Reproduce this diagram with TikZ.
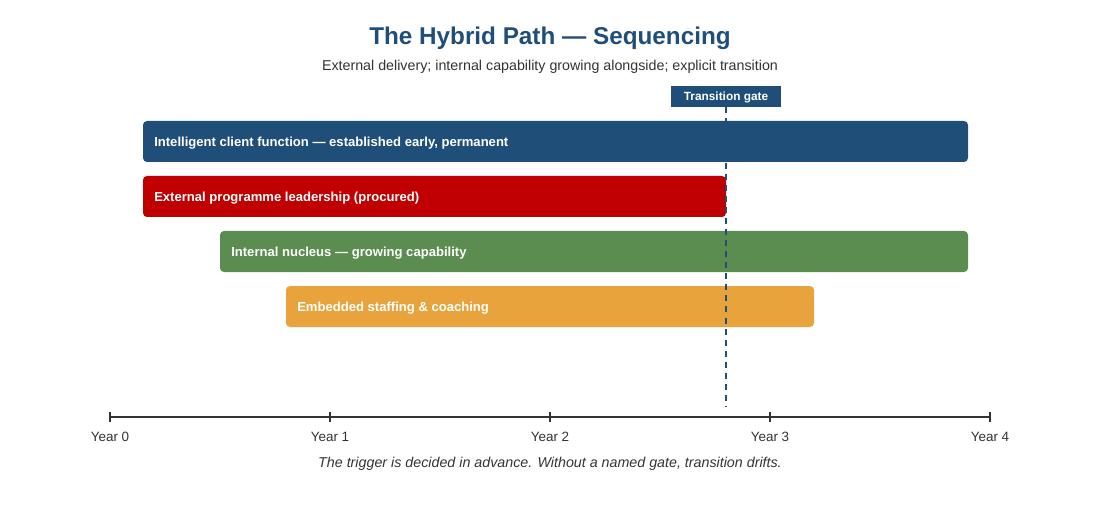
\documentclass[tikz,border=0pt]{standalone}
\usepackage{fontspec}
\setmainfont{Liberation Sans}
\definecolor{navy}{HTML}{1F4E79}
\definecolor{crimson}{HTML}{C00000}
\definecolor{leaf}{HTML}{5B8C50}
\definecolor{amber}{HTML}{E8A33D}
\definecolor{ink}{HTML}{333333}
\begin{document}
\begin{tikzpicture}[x=0.75pt,y=-0.75pt,
    bar/.style={rounded corners=3pt},
    barlabel/.style={anchor=west, text=white, inner sep=0pt, font=\fontsize{9.8}{11}\selectfont\bfseries},
    yearlabel/.style={anchor=base, text=ink, inner sep=0pt, font=\fontsize{10.1}{11}\selectfont}]
    \useasboundingbox (0,0) rectangle (1100,506);
    % heading
    \node [text=navy, font=\fontsize{18.2}{21}\selectfont\bfseries] (title) at (550,38) {The Hybrid Path --- Sequencing};
    \node [text=ink, font=\fontsize{10.7}{12}\selectfont] (subtitle) at (550,67) {External delivery; internal capability growing alongside; explicit transition};
    % bars, 220px per year
    \fill [bar, navy] (143,121) rectangle (968,162);
    \node [barlabel] (client) at (154,143) {Intelligent client function --- established early, permanent};
    \fill [bar, crimson] (143,176) rectangle (726,217);
    \node [barlabel] (external) at (154,198) {External programme leadership (procured)};
    \fill [bar, leaf] (220,231) rectangle (968,272);
    \node [barlabel] (nucleus) at (231,253) {Internal nucleus --- growing capability};
    \fill [bar, amber] (286,286) rectangle (814,327);
    \node [barlabel] (coaching) at (297,308) {Embedded staffing \& coaching};
    % gate
    \node [fill=navy, text=white, font=\fontsize{8.9}{10}\selectfont\bfseries, minimum width=110*0.75pt, minimum height=21*0.75pt, inner sep=0pt, text height=6.6pt, text depth=0pt] (gate) at (726,96.5) {Transition gate};
    \coordinate (gateend) at (726,407);
    \draw [navy, line width=1.9pt, dash pattern=on 4.5pt off 3.8pt] (gate.south) -- (gateend);
    % axis
    \draw [ink, line width=1.8pt] (110,417) -- (990,417);
    \foreach \i in {0,...,4} {
        \draw [ink, line width=1.5pt] (110+220*\i,412) -- (110+220*\i,422);
        \node [yearlabel] (year\i) at (110+220*\i,441.5) {Year \i};
    }
    \node [text=ink, font=\fontsize{10.7}{12}\selectfont\itshape] (footnote) at (550,464) {The trigger is decided in advance. Without a named gate, transition drifts.};
\end{tikzpicture}
\end{document}
